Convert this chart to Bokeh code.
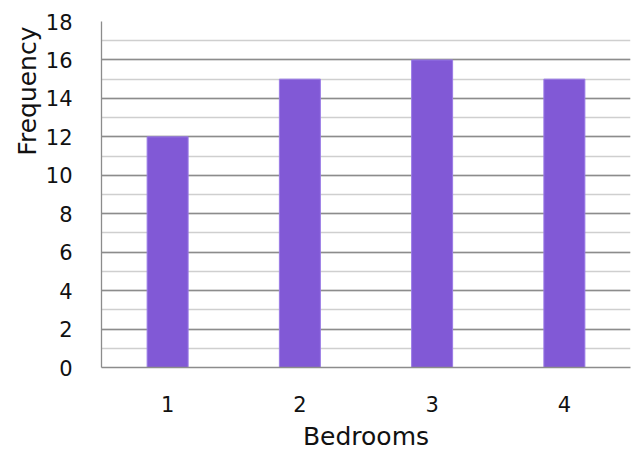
from bokeh.plotting import figure
from bokeh.models import Range1d, SingleIntervalTicker, Title, FactorRange
from bokeh.embed import file_html
from bokeh.resources import INLINE

bedrooms = ["1", "2", "3", "4"]
frequency = [12, 15, 16, 15]

FONT = "DejaVu Sans"
TXT = "#111111"

p = figure(x_range=FactorRange(*bedrooms, range_padding=0), y_range=Range1d(0, 18),
           width=640, height=465, output_backend="svg", toolbar_location=None,
           min_border_left=101, min_border_right=10, min_border_top=21, min_border_bottom=98)
p.outline_line_color = None
p.background_fill_color = "white"
p.border_fill_color = "white"

p.vbar(x=bedrooms, top=frequency, width=0.31, fill_color="#8159d6",
       line_color="#9a7be6", line_width=1)

p.yaxis.ticker = SingleIntervalTicker(interval=2, num_minor_ticks=2)
p.yaxis.major_tick_line_color = None
p.yaxis.minor_tick_line_color = None
p.yaxis.axis_line_color = "#8c8c8c"
p.yaxis.axis_line_width = 1.3
p.yaxis.major_label_standoff = 23
p.yaxis.major_label_text_font = FONT
p.yaxis.major_label_text_font_size = "21px"
p.yaxis.major_label_text_color = TXT

p.xaxis.major_tick_line_color = None
p.xaxis.minor_tick_line_color = None
p.xaxis.axis_line_color = "#8c8c8c"
p.xaxis.axis_line_width = 1.3
p.xaxis.major_label_standoff = 22
p.xaxis.major_label_text_font = FONT
p.xaxis.major_label_text_font_size = "21px"
p.xaxis.major_label_text_color = TXT
p.xaxis.axis_label = "Bedrooms"
p.xaxis.axis_label_standoff = 7
p.xaxis.axis_label_text_font = FONT
p.xaxis.axis_label_text_font_size = "25px"
p.xaxis.axis_label_text_font_style = "normal"
p.xaxis.axis_label_text_color = TXT

p.xgrid.grid_line_color = None
p.ygrid.grid_line_color = "#8c8c8c"
p.ygrid.grid_line_width = 1.3
p.ygrid.minor_grid_line_color = "#cfcfcf"
p.ygrid.minor_grid_line_width = 1.3

p.add_layout(Title(text="Frequency", align="right", text_font=FONT,
                   text_font_size="25px", text_font_style="normal",
                   text_color=TXT, offset=5, standoff=2), "left")

open("out.html", "w").write(file_html(p, INLINE))
